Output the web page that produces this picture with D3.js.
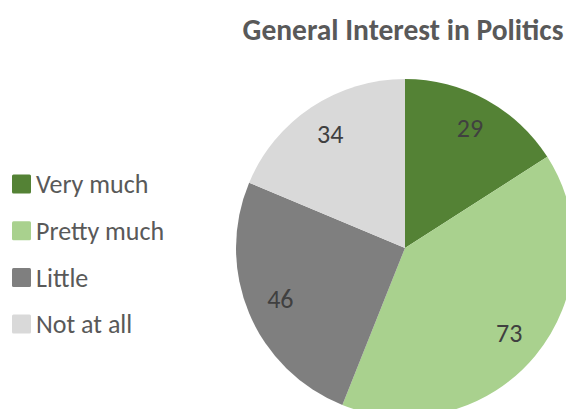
<!DOCTYPE html>
<html>
<head>
<meta charset="utf-8">
<script src="https://cdn.jsdelivr.net/npm/d3@7"></script>
<style>
  body { margin: 0; background: #fff; }
  text { font-family: Calibri, Carlito, "Open Sans", sans-serif; }
</style>
</head>
<body>
<svg id="chart" width="566" height="409"></svg>
<script>
// chart data
const categories = ["Very much", "Pretty much", "Little", "Not at all"];
const values = [29, 73, 46, 34];
const colors = ["#548235", "#A9D18E", "#7F7F7F", "#D9D9D9"];
const title = "General Interest in Politics";

const svg = d3.select("#chart");
const cx = 405, cy = 248, radius = 169;

// title
svg.append("text")
  .attr("x", 403)
  .attr("y", 40)
  .attr("text-anchor", "middle")
  .attr("font-size", 29.5)
  .attr("font-weight", "bold")
  .attr("fill", "#595959")
  .text(title);

const pie = d3.pie().sort(null).value(d => d);
const arcs = pie(values);
const arc = d3.arc().innerRadius(0).outerRadius(radius);
const labelArc = d3.arc().innerRadius(radius * 0.8).outerRadius(radius * 0.8);

const g = svg.append("g").attr("transform", `translate(${cx},${cy})`);

g.selectAll("path")
  .data(arcs)
  .join("path")
  .attr("d", arc)
  .attr("fill", (d, i) => colors[i]);

g.selectAll("text.lbl")
  .data(arcs)
  .join("text")
  .attr("class", "lbl")
  .attr("transform", d => `translate(${labelArc.centroid(d)})`)
  .attr("text-anchor", "middle")
  .attr("dy", "0.3em")
  .attr("font-size", 26)
  .attr("fill", "#404040")
  .text(d => d.data);

// legend
const legend = svg.append("g").attr("transform", "translate(12,184)");
const row = legend.selectAll("g")
  .data(categories)
  .join("g")
  .attr("transform", (d, i) => `translate(0,${i * 46.7})`);

row.append("rect")
  .attr("x", 0)
  .attr("y", -9.5)
  .attr("width", 19)
  .attr("height", 19)
  .attr("rx", 1.5)
  .attr("fill", (d, i) => colors[i]);

row.append("text")
  .attr("x", 24)
  .attr("dy", "0.35em")
  .attr("font-size", 26)
  .attr("fill", "#595959")
  .text(d => d);
</script>
</body>
</html>
